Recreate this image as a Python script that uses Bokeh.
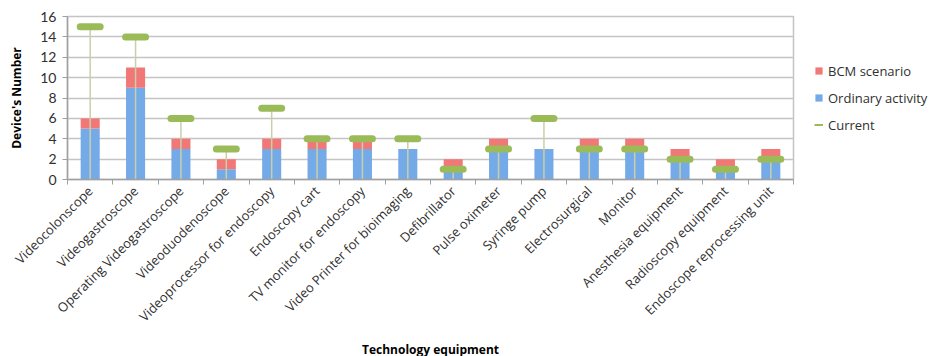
from bokeh.plotting import figure
from bokeh.models import FixedTicker, Legend, LegendItem, ColumnDataSource, Range1d
from bokeh.embed import file_html
from bokeh.resources import INLINE
import math

categories = ["Videocolonscope", "Videogastroscope", "Operating Videogastroscope",
              "Videoduodenoscope", "Videoprocessor for endoscopy", "Endoscopy cart",
              "TV monitor for endoscopy", "Video Printer for bioimaging", "Defibrillator",
              "Pulse oximeter", "Syringe pump", "Electrosurgical", "Monitor",
              "Anesthesia equipment", "Radioscopy equipment", "Endoscope reprocessing unit"]
ordinary = [5, 9, 3, 1, 3, 3, 3, 3, 1, 3, 3, 3, 3, 2, 1, 2]
bcm = [1, 2, 1, 1, 1, 1, 1, 0, 1, 1, 0, 1, 1, 1, 1, 1]
current = [15, 14, 6, 3, 7, 4, 4, 4, 1, 3, 6, 3, 3, 2, 1, 2]
y_ticks = [0, 2, 4, 6, 8, 10, 12, 14, 16]

xs = list(range(len(categories)))
src = ColumnDataSource(dict(
    x=xs,
    ordinary=ordinary,
    total=[o + b for o, b in zip(ordinary, bcm)],
    current=current,
    zero=[0] * len(xs),
    xl=[x - 0.22 for x in xs],
    xr=[x + 0.22 for x in xs],
))

p = figure(frame_width=726, frame_height=163, output_backend="svg", toolbar_location=None,
           x_range=Range1d(-0.5, len(categories) - 0.5), y_range=Range1d(0, 16),
           min_border_left=67, min_border_right=10, min_border_top=16, min_border_bottom=170)
p.background_fill_color = "white"
p.border_fill_color = "white"
p.outline_line_color = "#c4c4c4"
p.outline_line_width = 1.5

blue = "#74aae8"
red = "#f27777"
green = "#9bbb59"

r_ord = p.vbar(x="x", bottom="zero", top="ordinary", width=0.42, source=src,
               fill_color=blue, line_color=None)
r_bcm = p.vbar(x="x", bottom="ordinary", top="total", width=0.42, source=src,
               fill_color=red, line_color=None)
p.segment(x0="x", y0="zero", x1="x", y1="current", source=src,
          line_color="#c9cfa8", line_width=1.5)
p.segment(x0="xl", y0="current", x1="xr", y1="current", source=src,
          line_color=green, line_width=7, line_cap="round")
# legend proxy for the "Current" marker: zero-length segments (invisible in plot)
r_cur_leg = p.segment(x0="x", y0="current", x1="x", y1="current", source=src,
                      line_color=green, line_width=2, line_cap="butt")

# axes
p.xaxis.ticker = FixedTicker(ticks=xs, minor_ticks=[x - 0.5 for x in xs] + [len(xs) - 0.5])
p.xaxis.major_label_overrides = {x: c for x, c in zip(xs, categories)}
p.xaxis.major_label_orientation = math.pi / 4
p.xaxis.major_tick_out = 0
p.xaxis.major_tick_in = 0
p.xaxis.minor_tick_out = 5
p.xaxis.minor_tick_in = 0
p.xaxis.minor_tick_line_color = "#a0a0a0"
p.xaxis.axis_line_color = "#a0a0a0"
p.xaxis.axis_line_width = 1.5
p.xaxis.major_label_text_font = "Open Sans"
p.xaxis.major_label_text_font_size = "13px"
p.xaxis.major_label_text_color = "#303030"
p.xaxis.major_label_standoff = 4
p.xaxis.axis_label = "Technology equipment"
p.xaxis.axis_label_text_font = "Open Sans"
p.xaxis.axis_label_text_font_style = "bold"
p.xaxis.axis_label_text_font_size = "12px"
p.xaxis.axis_label_text_color = "#000000"
p.xaxis.axis_label_standoff = 6

p.yaxis.ticker = FixedTicker(ticks=y_ticks)
p.yaxis.minor_tick_line_color = None
p.yaxis.major_tick_out = 5
p.yaxis.major_tick_in = 0
p.yaxis.major_tick_line_color = "#a0a0a0"
p.yaxis.axis_line_color = "#a0a0a0"
p.yaxis.axis_line_width = 1.5
p.yaxis.major_label_text_font = "Lato"
p.yaxis.major_label_text_font_size = "14px"
p.yaxis.major_label_text_color = "#303030"
p.yaxis.major_label_standoff = 6
p.yaxis.axis_label = "Device's Number"
p.yaxis.axis_label_text_font = "Open Sans"
p.yaxis.axis_label_text_font_style = "bold"
p.yaxis.axis_label_text_font_size = "12px"
p.yaxis.axis_label_text_color = "#000000"
p.yaxis.axis_label_standoff = 12

p.xgrid.grid_line_color = None
p.ygrid.grid_line_color = "#c4c4c4"
p.ygrid.grid_line_width = 1.5

legend = Legend(items=[
    LegendItem(label="BCM scenario", renderers=[r_bcm]),
    LegendItem(label="Ordinary activity", renderers=[r_ord]),
    LegendItem(label="Current", renderers=[r_cur_leg]),
], location="center_left")
legend.label_text_font = "Open Sans"
legend.label_text_font_size = "13px"
legend.label_text_color = "#303030"
legend.glyph_width = 9
legend.glyph_height = 9
legend.spacing = 9
legend.border_line_color = None
legend.background_fill_alpha = 0
legend.margin = 21
legend.padding = 4
p.add_layout(legend, "right")

open("out.html", "w").write(file_html(p, INLINE))
